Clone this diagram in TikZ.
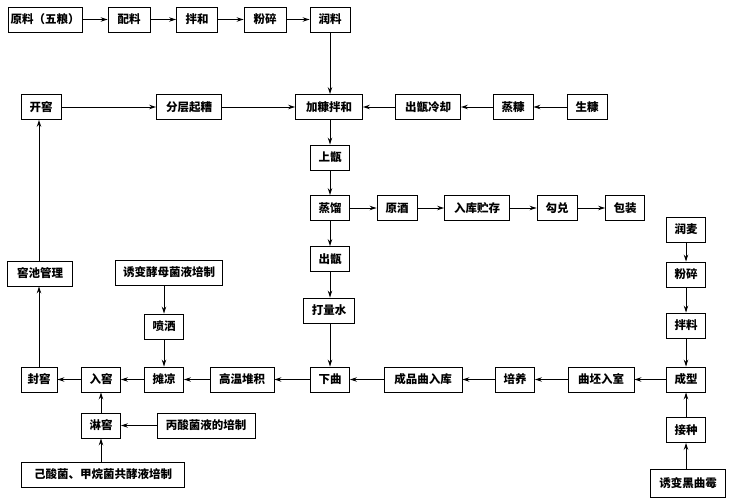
\documentclass[tikz,border=0pt]{standalone}
\usepackage{fontspec}
\newfontfamily\cjk{Noto Sans CJK SC}
\usetikzlibrary{arrows.meta}
\begin{document}
\begin{tikzpicture}[x=1pt,y=-1pt,
  box/.style={draw,line width=0.9pt,inner sep=0pt,minimum height=25pt,font=\cjk\bfseries\fontsize{11.5}{12}\selectfont},
  arr/.style={line width=0.9pt,-{Stealth[length=7pt,width=4.5pt]}}]
\useasboundingbox (0,0) rectangle (730,500);
% top row
\node[box,minimum width=74pt] (yl) at (45,19.5) {原料（五粮）};
\node[box,minimum width=42pt] (pl) at (129,19.5) {配料};
\node[box,minimum width=41pt] (bh) at (197,19.5) {拌和};
\node[box,minimum width=42pt] (fs) at (265,19.5) {粉碎};
\node[box,minimum width=40pt] (rl) at (330,19.5) {润料};
% second row
\node[box,minimum width=40pt] (kj) at (41,107) {开窖};
\node[box,minimum width=65pt] (fc) at (189,107) {分层起糟};
\node[box,minimum width=67pt] (jk) at (329,107) {加糠拌和};
\node[box,minimum width=65pt] (cz) at (428,107) {出甑冷却};
\node[box,minimum width=40pt] (zk) at (513,107) {蒸糠};
\node[box,minimum width=40pt] (sk) at (587,107) {生糠};
% center column
\node[box,minimum width=39pt] (sz) at (330,157.5) {上甑};
\node[box,minimum width=39pt] (zl) at (330,208) {蒸馏};
\node[box,minimum width=40pt] (yj) at (397,208) {原酒};
\node[box,minimum width=65pt] (rk) at (477,208) {入库贮存};
\node[box,minimum width=40pt] (gd) at (557,208) {勾兑};
\node[box,minimum width=39pt] (bz) at (625,208) {包装};
\node[box,minimum width=39pt] (cz2) at (330,259) {出甑};
\node[box,minimum width=51pt] (dl) at (329,310.5) {打量水};
\node[box,minimum width=39pt] (xq) at (330,379.5) {下曲};
% right column
\node[box,minimum width=39pt] (rm) at (686,229.5) {润麦};
\node[box,minimum width=39pt] (fs2) at (686,274.5) {粉碎};
\node[box,minimum width=39pt] (bl) at (686,325.5) {拌料};
\node[box,minimum width=39pt] (cx) at (686,379.5) {成型};
\node[box,minimum width=39pt] (jz) at (686,430) {接种};
\node[box,minimum width=75pt,minimum height=28pt] (hq) at (688,483) {诱变黑曲霉};
% bottom row right part
\node[box,minimum width=78pt] (cp) at (423,379.5) {成品曲入库};
\node[box,minimum width=39pt] (py) at (515,379.5) {培养};
\node[box,minimum width=66pt] (qp) at (601,379.5) {曲坯入室};
% left part
\node[box,minimum width=65pt] (jc) at (40,273.5) {窖池管理};
\node[box,minimum width=107pt] (yb) at (169,272.5) {诱变酵母菌液培制};
\node[box,minimum width=39pt] (ps) at (164,326.5) {喷洒};
\node[box,minimum width=39pt] (tl) at (164,379.5) {摊凉};
\node[box,minimum width=64pt] (gw) at (242,379.5) {高温堆积};
\node[box,minimum width=36pt] (fj) at (39,379.5) {封窖};
\node[box,minimum width=39pt] (rj) at (101,379.5) {入窖};
\node[box,minimum width=39pt] (lj) at (101,425.5) {淋窖};
\node[box,minimum width=98pt] (bs) at (206,425.5) {丙酸菌液的培制};
\node[box,minimum width=163pt] (js) at (103,474.5) {己酸菌、甲烷菌共酵液培制};
% arrows top row
\draw[arr] (yl) -- (pl);
\draw[arr] (pl) -- (bh);
\draw[arr] (bh) -- (fs);
\draw[arr] (fs) -- (rl);
\draw[arr] (rl.south) -- (rl.south |- jk.north);
% second row
\draw[arr] (kj) -- (fc);
\draw[arr] (fc) -- (jk);
\draw[arr] (sk) -- (zk);
\draw[arr] (zk) -- (cz);
\draw[arr] (cz) -- (jk);
% center column
\draw[arr] (sz.north |- jk.south) -- (sz.north);
\draw[arr] (sz) -- (zl);
\draw[arr] (zl) -- (cz2);
\draw[arr] (cz2) -- (cz2.south |- dl.north);
\draw[arr] (cz2.south |- dl.south) -- (xq.north);
\draw[arr] (zl) -- (yj);
\draw[arr] (yj) -- (rk);
\draw[arr] (rk) -- (gd);
\draw[arr] (gd) -- (bz);
% right column
\draw[arr] (rm) -- (fs2);
\draw[arr] (fs2) -- (bl);
\draw[arr] (bl) -- (cx);
\draw[arr] (jz) -- (cx);
\draw[arr] (jz.south |- hq.north) -- (jz.south);
% bottom row
\draw[arr] (cx) -- (qp);
\draw[arr] (qp) -- (py);
\draw[arr] (py) -- (cp);
\draw[arr] (cp) -- (xq);
\draw[arr] (xq) -- (gw);
\draw[arr] (gw) -- (tl);
\draw[arr] (tl) -- (rj);
\draw[arr] (rj) -- (fj);
% left
\draw[arr] (yb.south -| ps.north) -- (ps.north);
\draw[arr] (ps) -- (tl);
\draw[arr] (bs) -- (lj);
\draw[arr] (lj.south |- js.north) -- (lj.south);
\draw[arr] (lj) -- (rj);
\draw[arr] (fj.north) -- (fj.north |- jc.south);
\draw[arr] (jc.north -| fj.north) -- (kj.south -| fj.north);
\end{tikzpicture}
\end{document}
